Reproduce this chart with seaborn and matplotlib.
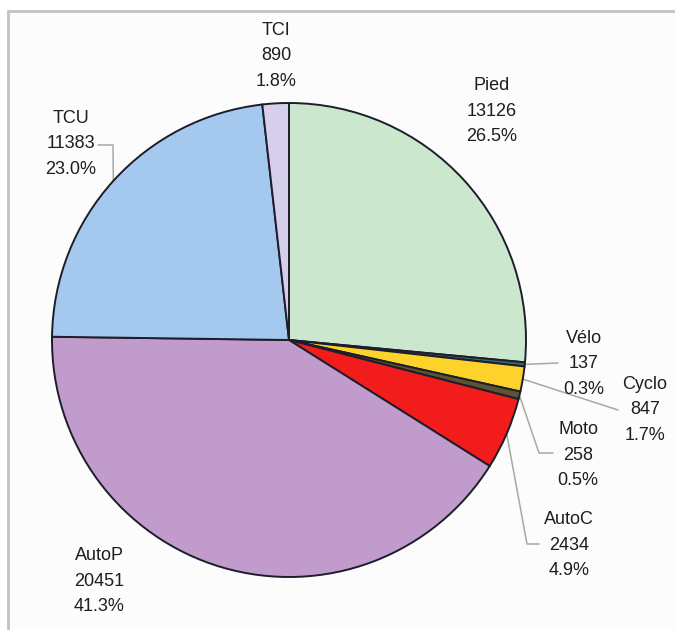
import numpy as np
import matplotlib
matplotlib.use("Agg")
import matplotlib.pyplot as plt
from matplotlib.patches import Rectangle
import seaborn as sns

# Trips by mode
modes = ["Pied", "Vélo", "Cyclo", "Moto", "AutoC", "AutoP", "TCU", "TCI"]
trips = [13126, 137, 847, 258, 2434, 20451, 11383, 890]
colors = ["#cbe7cd", "#2f6b6b", "#fdd22a", "#5b5432", "#f31c1c",
          "#c19bcb", "#a5c9ee", "#d6cfec"]

sns.set_theme(style="white")
plt.rcParams["font.family"] = ["Liberation Sans", "DejaVu Sans"]

W, H = 675, 630
fig = plt.figure(figsize=(W / 100, H / 100), dpi=100)
fig.patch.set_facecolor("white")
ax = fig.add_axes([0, 0, 1, 1])
ax.set_axis_off()

# panel frame (runs off the right and bottom edges)
ax.add_patch(Rectangle((8, -60), 760, 619 + 60, facecolor="#fcfcfc",
                       edgecolor="#c2c2c2", lw=2, zorder=0))

center = (289, 290)
radius = 237
palette = sns.color_palette(colors)
wedges, _ = ax.pie(trips, colors=palette, startangle=90, counterclock=False,
                   center=center, radius=radius,
                   wedgeprops=dict(edgecolor="#1d1d2b", linewidth=1.4))
for w in wedges:
    w.set_zorder(2)

ax.set_xlim(0, W)
ax.set_ylim(0, H)
ax.set_aspect("equal")

total = sum(trips)
cum = np.cumsum([0] + trips[:-1])

# label anchor (x, y from top) and optional leader-line elbows
label_pos = {
    "Pied": (492, 111), "Vélo": (584, 364), "Cyclo": (645, 410),
    "Moto": (578, 455), "AutoC": (569, 545), "AutoP": (99, 581),
    "TCU": (71, 144), "TCI": (276, 56),
}
leaders = {
    "Vélo": [(558, 363)],
    "Cyclo": [(618, 410)],
    "Moto": [(539, 453), (553, 453)],
    "AutoC": [(527, 544), (539, 544)],
    "TCU": [(113, 145), (98, 145)],
}

for name, val, start in zip(modes, trips, cum):
    lx, ly = label_pos[name]
    pct = 100 * val / total
    ax.text(lx, H - ly, f"{name}\n{val}\n{pct:.1f}%", ha="center", va="center",
            fontsize=13, color="#1e1e1e", linespacing=1.62, zorder=4)
    if name in leaders:
        theta = np.deg2rad(90 - 360 * (start + val / 2) / total)
        ex = center[0] + radius * np.cos(theta)
        ey = center[1] + radius * np.sin(theta)
        xs = [ex] + [p[0] for p in leaders[name]]
        ys = [ey] + [H - p[1] for p in leaders[name]]
        ax.plot(xs, ys, color="#a8a8a8", lw=1.1, zorder=1)

fig.savefig("out.png", dpi=100)
